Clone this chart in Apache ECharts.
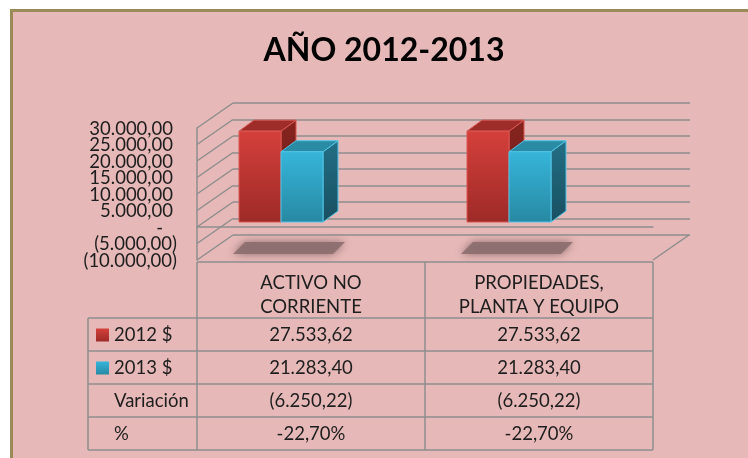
<!DOCTYPE html>
<html>
<head>
<meta charset="utf-8">
<script src="https://cdn.jsdelivr.net/npm/echarts@6/dist/echarts.min.js"></script>
<style>
    html, body { margin: 0; padding: 0; background: #fff; }
    #chart { width: 748px; height: 458px; }
</style>
</head>
<body>
<div id="chart"></div>
<script>
// datos
const categories = ['ACTIVO NO\nCORRIENTE', 'PROPIEDADES,\nPLANTA Y EQUIPO'];
const seriesNames = ['2012 $', '2013 $'];
const values2012 = [27533.62, 27533.62];
const values2013 = [21283.40, 21283.40];
const variacion = [-6250.22, -6250.22];
const porcentaje = [-22.70, -22.70];
const yTicks = [-10000, -5000, 0, 5000, 10000, 15000, 20000, 25000, 30000];

const chart = echarts.init(document.getElementById('chart'));

const font = 'Lato, "Liberation Sans", sans-serif';
const fontSize = 18.5;
const gridColor = '#8e8e8e';
const textColor = '#1e1e1e';

// plano frontal y pared del fondo
const front = { left: 197, top: 128, width: 456, height: 132 };
const depthX = 36, depthY = -25;
// barras
const barW = 42, barDx = 15, barDy = -11;
const barOffset = [-72, -30];
const barLift = -5;

const faces = [
    {
        front: ['#d5403b', '#9d2a27'], top: '#9e2c29', side: ['#86241f', '#6e1c19'], stroke: '#da5650'
    },
    {
        front: ['#36b5da', '#2789a3'], top: '#2a8ba4', side: ['#236f86', '#184f60'], stroke: '#52c4e6'
    }
];

// formato contable: 27.533,62 / (6.250,22) / -
function fmt(v) {
    if (v === 0) return '-';
    let s = Math.abs(v).toFixed(2).split('.');
    let ent = s[0].replace(/\B(?=(\d{3})+(?!\d))/g, '.');
    let out = ent + ',' + s[1];
    return v < 0 ? '(' + out + ')' : out;
}

function fmtPct(v) {
    return v.toFixed(2).replace('.', ',') + '%';
}

function vGrad(c) {
    return new echarts.graphic.LinearGradient(0, 0, 0, 1, [
        { offset: 0, color: c[0] },
        { offset: 1, color: c[1] }
    ]);
}

// pared izquierda, piso y etiquetas del eje
function renderWall(params, api) {
    const v = api.value(1);
    const y = api.coord([0, v])[1];
    const x = params.coordSys.x;
    const children = [{
        type: 'line',
        shape: { x1: x, y1: y, x2: x + depthX, y2: y + depthY },
        style: { stroke: gridColor, lineWidth: 1.5 }
    }, {
        type: 'text',
        style: {
            text: v === 0 ? '-' : fmt(v),
            x: v < 0 ? x - 20 : (v === 0 ? x - 34 : x - 24), y: y + 1,
            textAlign: 'right', textVerticalAlign: 'middle',
            font: fontSize + 'px ' + font, fill: textColor
        }
    }];
    if (v === yTicks[0]) {
        const xr = x + params.coordSys.width;
        children.push({
            type: 'line',
            shape: { x1: xr, y1: y, x2: xr + depthX, y2: y + depthY },
            style: { stroke: gridColor, lineWidth: 1.5 }
        });
    }
    return { type: 'group', children: children };
}

function renderBar(params, api) {
    const s = params.seriesIndex - 1;
    const cat = api.value(0);
    const base = api.coord([cat, 0]);
    const topPt = api.coord([cat, api.value(1)]);
    const floorY = api.coord([cat, yTicks[0]])[1];
    const c = base[0];
    const left = c + barOffset[s];
    const bottom = base[1] + barLift;
    const top = topPt[1] + barLift;
    const f = faces[s];
    const children = [];
    if (s === 0) {
        // sombra en el piso
        children.push({
            type: 'polygon',
            shape: { points: [[c - 66, floorY - 18], [c + 34, floorY - 18], [c + 22, floorY - 6], [c - 78, floorY - 6]] },
            style: { fill: 'rgba(140,110,110,0.9)', shadowBlur: 8, shadowColor: 'rgba(130,100,100,1)' }
        });
    }
    children.push({
        type: 'polygon',
        shape: { points: [[left + barW, top], [left + barW + barDx, top + barDy], [left + barW + barDx, bottom + barDy], [left + barW, bottom]] },
        style: { fill: vGrad(f.side), stroke: f.stroke, lineWidth: 1 }
    });
    children.push({
        type: 'polygon',
        shape: { points: [[left, top], [left + barW, top], [left + barW + barDx, top + barDy], [left + barDx, top + barDy]] },
        style: { fill: f.top, stroke: f.stroke, lineWidth: 1 }
    });
    children.push({
        type: 'rect',
        shape: { x: left, y: top, width: barW, height: bottom - top },
        style: { fill: vGrad(f.front), stroke: f.stroke, lineWidth: 1 }
    });
    return { type: 'group', children: children };
}

// tabla de datos
const colX = [88, front.left, front.left + front.width / 2, front.left + front.width];
const rowY = [262, 318, 351, 384, 417, 450];
const tableRows = [
    { label: seriesNames[0], color: faces[0].front, cells: values2012.map(fmt) },
    { label: seriesNames[1], color: faces[1].front, cells: values2013.map(fmt) },
    { label: 'Variación', cells: variacion.map(fmt) },
    { label: '%', cells: porcentaje.map(fmtPct) }
];

const graphics = [{
    type: 'rect',
    z: -10,
    shape: { x: 11.5, y: 10.5, width: 800, height: 500 },
    style: { fill: '#e6b8b7', stroke: '#9b8b58', lineWidth: 3 }
}, {
    type: 'text',
    style: {
        text: 'AÑO 2012-2013', x: 384, y: 51, textAlign: 'center', textVerticalAlign: 'middle',
        font: 'bold 32px ' + font, fill: '#000'
    }
}];

function hLine(x1, x2, y) {
    graphics.push({ type: 'line', shape: { x1: x1, y1: y, x2: x2, y2: y }, style: { stroke: gridColor, lineWidth: 1.5 } });
}
function vLine(x, y1, y2) {
    graphics.push({ type: 'line', shape: { x1: x, y1: y1, x2: x, y2: y2 }, style: { stroke: gridColor, lineWidth: 1.5 } });
}

hLine(colX[1], colX[3], rowY[0]);
for (let i = 1; i < rowY.length; i++) hLine(colX[0], colX[3], rowY[i]);
vLine(colX[0], rowY[1], rowY[5]);
for (let j = 1; j < colX.length; j++) vLine(colX[j], rowY[0], rowY[5]);

categories.forEach(function (name, j) {
    graphics.push({
        type: 'text',
        style: {
            text: name, x: (colX[j + 1] + colX[j + 2]) / 2, y: 295,
            textAlign: 'center', textVerticalAlign: 'middle', lineHeight: 24,
            font: fontSize + 'px ' + font, fill: textColor
        }
    });
});

tableRows.forEach(function (row, i) {
    const cy = (rowY[i + 1] + rowY[i + 2]) / 2 + 1;
    if (row.color) {
        graphics.push({
            type: 'rect',
            shape: { x: 96, y: cy - 7, width: 13, height: 13 },
            style: { fill: vGrad(row.color) }
        });
    }
    graphics.push({
        type: 'text',
        style: { text: row.label, x: 114, y: cy, textVerticalAlign: 'middle', font: fontSize + 'px ' + font, fill: textColor }
    });
    row.cells.forEach(function (t, j) {
        graphics.push({
            type: 'text',
            style: {
                text: t, x: (colX[j + 1] + colX[j + 2]) / 2, y: cy,
                textAlign: 'center', textVerticalAlign: 'middle', font: fontSize + 'px ' + font, fill: textColor
            }
        });
    });
});

const yAxisBase = {
    type: 'value',
    min: yTicks[0],
    max: yTicks[yTicks.length - 1],
    interval: yTicks[1] - yTicks[0]
};

chart.setOption({
    backgroundColor: '#fff',
    animation: false,
    grid: [
        { left: front.left, top: front.top, width: front.width, height: front.height },
        { left: front.left + depthX, top: front.top + depthY, width: front.width + 1, height: front.height }
    ],
    xAxis: [
        {
            gridIndex: 0, type: 'category', data: categories,
            axisLine: { onZero: true, lineStyle: { color: gridColor, width: 1.5 } },
            axisTick: { show: false }, axisLabel: { show: false }
        },
        {
            gridIndex: 1, type: 'category', data: categories,
            axisLine: { show: false }, axisTick: { show: false }, axisLabel: { show: false }
        }
    ],
    yAxis: [
        Object.assign({}, yAxisBase, {
            gridIndex: 0,
            axisLine: { show: true, lineStyle: { color: gridColor, width: 1.5 } },
            axisTick: { show: false },
            splitLine: { show: false },
            axisLabel: { show: false }
        }),
        Object.assign({}, yAxisBase, {
            gridIndex: 1,
            axisLine: { show: false }, axisTick: { show: false }, axisLabel: { show: false },
            splitLine: { show: true, lineStyle: { color: gridColor, width: 1.5 } }
        })
    ],
    series: [
        {
            type: 'custom', name: 'pared', xAxisIndex: 0, yAxisIndex: 0,
            renderItem: renderWall, silent: true,
            data: yTicks.map(function (v) { return [0, v]; })
        },
        {
            type: 'custom', name: seriesNames[0], xAxisIndex: 0, yAxisIndex: 0,
            renderItem: renderBar,
            data: values2012.map(function (v, i) { return [i, v]; })
        },
        {
            type: 'custom', name: seriesNames[1], xAxisIndex: 0, yAxisIndex: 0,
            renderItem: renderBar,
            data: values2013.map(function (v, i) { return [i, v]; })
        }
    ],
    graphic: graphics
});
</script>
</body>
</html>
